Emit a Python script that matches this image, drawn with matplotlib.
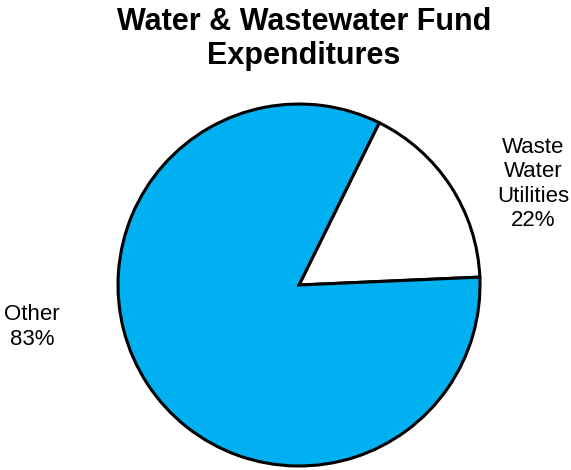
import matplotlib
matplotlib.use('Agg')
import matplotlib.pyplot as plt

# values; label text kept as printed on the chart
categories = ['Waste\nWater\nUtilities', 'Other']
shares = [17, 83]
pct_labels = ['22%', '83%']
colors = ['#FFFFFF', '#00B0F0']

plt.rcParams['font.family'] = ['Liberation Sans', 'DejaVu Sans']

W, H = 571, 470
fig = plt.figure(figsize=(W / 100, H / 100), dpi=100)

cx, cy, r = 299, 285, 181
ax = fig.add_axes([(cx - r) / W, (H - cy - r) / H, 2 * r / W, 2 * r / H])
ax.pie(shares, colors=colors, startangle=2.5, counterclock=True,
       wedgeprops=dict(edgecolor='black', linewidth=2.2))
ax.set_xlim(-1, 1)
ax.set_ylim(-1, 1)
ax.set_aspect('auto')
ax.axis('off')

fig.text(304 / W, 1 - 39 / H, 'Water & Wastewater Fund\nExpenditures',
         ha='center', va='center', fontsize=22, fontweight='bold',
         linespacing=1.2)

# slice labels
fig.text(533 / W, 1 - 184 / H, f'{categories[0]}\n{pct_labels[0]}',
         ha='center', va='center', fontsize=16, linespacing=1.22)
fig.text(32 / W, 1 - 327 / H, f'{categories[1]}\n{pct_labels[1]}',
         ha='center', va='center', fontsize=16, linespacing=1.22)

fig.savefig('out.png', dpi=100)
